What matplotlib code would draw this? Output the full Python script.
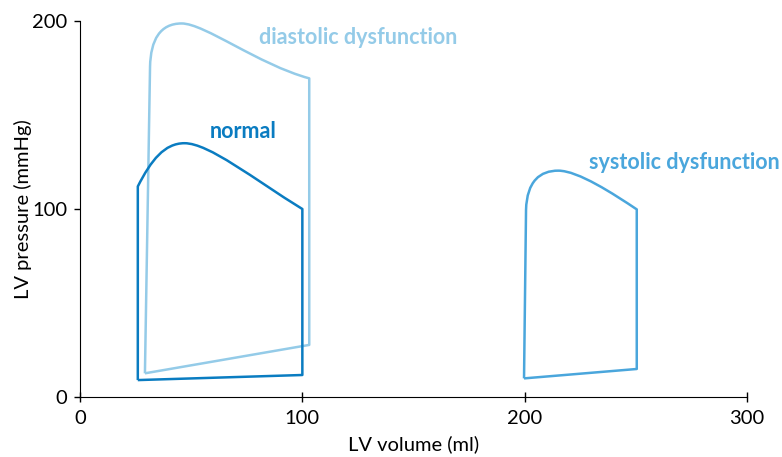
import matplotlib
matplotlib.use("Agg")
import matplotlib.pyplot as plt
from matplotlib.path import Path
from matplotlib.patches import PathPatch

M, L, C = Path.MOVETO, Path.LINETO, Path.CURVE4

# pressure-volume loops (volume ml, pressure mmHg)
# smooth tops are cubic bezier segments (two control points + end point)
normal_vol = [26, 100, 100, 78, 58, 47, 38, 32, 26, 26]
normal_pres = [9, 11.7, 100, 116, 135, 135, 135, 126, 112, 9]
normal_codes = [M, L, L, C, C, C, C, C, C, L]

diast_vol = [29.2, 103.1, 103.1, 80, 56, 45.7, 36, 31.8, 31.5, 29.2]
diast_pres = [12.6, 27.7, 169.5, 177, 198.7, 198.7, 198.7, 190, 175.7, 12.6]
diast_codes = [M, L, L, C, C, C, C, C, L, L]

syst_vol = [199.7, 250.4, 250.4, 240, 224, 215.1, 207, 201, 200.6, 199.7]
syst_pres = [9.9, 14.9, 99.8, 108, 120.4, 120.4, 120.4, 115, 99.5, 9.9]
syst_codes = [M, L, L, C, C, C, C, C, L, L]

x_ticks = [0, 100, 200, 300]
y_ticks = [0, 100, 200]

c_normal = "#0a7cc1"
c_diast = "#94cbe8"
c_syst = "#4aa6dc"

plt.rcParams["font.family"] = ["Lato", "DejaVu Sans"]

fig = plt.figure(figsize=(7.82, 4.57), dpi=100)
ax = fig.add_axes([0.1023, 0.1313, 0.853, 0.8227])


def loop(vol, pres, codes, col):
    p = Path(list(zip(vol, pres)), codes)
    ax.add_patch(PathPatch(p, fill=False, edgecolor=col, lw=1.8,
                           joinstyle="round"))


loop(diast_vol, diast_pres, diast_codes, c_diast)
loop(normal_vol, normal_pres, normal_codes, c_normal)
loop(syst_vol, syst_pres, syst_codes, c_syst)

ax.text(125, 191, "diastolic dysfunction", color=c_diast, fontsize=15.5,
        fontweight="bold", ha="center", va="center")
ax.text(73.3, 141, "normal", color=c_normal, fontsize=15.5,
        fontweight="bold", ha="center", va="center")
ax.text(271.7, 125, "systolic dysfunction", color=c_syst, fontsize=15.5,
        fontweight="bold", ha="center", va="center")

ax.set_xlim(0, 300)
ax.set_ylim(0, 200)
ax.set_xticks(x_ticks)
ax.set_yticks(y_ticks)
ax.tick_params(axis="x", direction="inout", length=7, width=1, labelsize=14.5, pad=6)
ax.tick_params(axis="y", direction="out", length=4, width=1, labelsize=14.5, pad=5)
for s in ["top", "right"]:
    ax.spines[s].set_visible(False)
ax.set_xlabel("LV volume (ml)", fontsize=14.5, labelpad=6)
ax.set_ylabel("LV pressure (mmHg)", fontsize=14.5, labelpad=0)

fig.savefig("out.png", dpi=100)
